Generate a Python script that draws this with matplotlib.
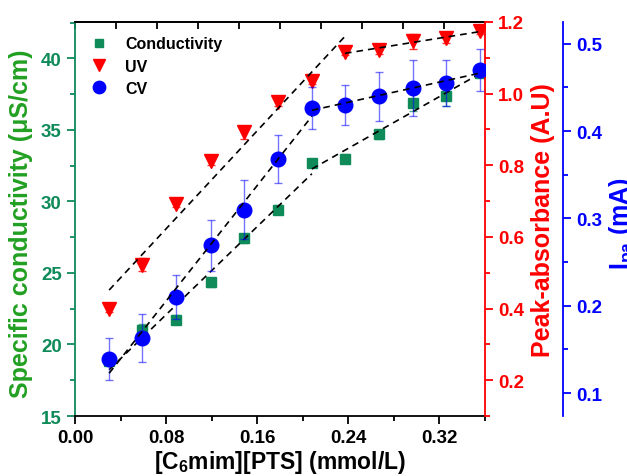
import numpy as np
import matplotlib.pyplot as plt
from matplotlib.ticker import MultipleLocator

plt.rcParams['font.family'] = ['Liberation Sans', 'DejaVu Sans']
plt.rcParams['font.weight'] = 'bold'
plt.rcParams['mathtext.fontset'] = 'custom'
plt.rcParams['mathtext.rm'] = 'Liberation Sans:bold'
plt.rcParams['mathtext.bf'] = 'Liberation Sans:bold'
plt.rcParams['mathtext.default'] = 'bf'

# Dữ liệu
conc = [0.030, 0.059, 0.089, 0.119, 0.148, 0.178, 0.208, 0.237, 0.267, 0.297, 0.326, 0.356]
cond = [18.85, 21.03, 21.73, 24.34, 27.42, 29.42, 32.68, 33.00, 34.70, 36.92, 37.38, 38.97]
cond_err = [0.2, 0.4, 0.3, 0.3, 0.3, 0.3, 0.3, 0.3, 0.3, 0.6, 0.7, 0.3]
uv = [0.399, 0.522, 0.693, 0.812, 0.892, 0.976, 1.036, 1.116, 1.122, 1.146, 1.156, 1.175]
uv_err = [0.010, 0.018, 0.010, 0.012, 0.018, 0.010, 0.010, 0.008, 0.010, 0.020, 0.014, 0.008]
cv = [0.139, 0.163, 0.210, 0.269, 0.310, 0.368, 0.427, 0.430, 0.440, 0.449, 0.455, 0.470]
cv_err = [0.024, 0.027, 0.025, 0.029, 0.034, 0.027, 0.024, 0.023, 0.028, 0.032, 0.026, 0.024]

# Chỉ số chia đoạn cho đường khớp tuyến tính
uv_break = 8
cv_break = 6
cond_break = 6

green = '#0f8b5a'
green_lbl = '#22a022'
red = '#ff0000'
blue = '#0000ff'

fig = plt.figure(figsize=(6.27, 4.77), dpi=100)
ax = fig.add_axes([75/627, 1-417/477, 410/627, 394/477])
ax2 = ax.twinx()
ax3 = ax.twinx()
ax3.spines['right'].set_position(('outward', 56))

x = np.array(conc)


def fit_line(axis, xs, ys, i0, i1):
    p = np.polyfit(xs[i0:i1], ys[i0:i1], 1)
    xx = np.array([xs[i0], xs[i1 - 1]])
    axis.plot(xx, np.polyval(p, xx), ls=(0, (4, 3)), c='k', lw=1.2, zorder=5)


# Độ dẫn điện
ax.errorbar(x, cond, yerr=cond_err, fmt='none', ecolor=green, elinewidth=1, capsize=3, alpha=0.7)
h1, = ax.plot(x, cond, 's', c=green, ms=7, ls='none', label='Conductivity', zorder=3)
fit_line(ax, x, np.array(cond), 0, cond_break + 1)
fit_line(ax, x, np.array(cond), cond_break, len(x))

# UV
ax2.errorbar(x, uv, yerr=uv_err, fmt='none', ecolor=red, elinewidth=1, capsize=3, alpha=0.8)
h2, = ax2.plot(x, uv, 'v', c=red, ms=10.5, ls='none', label='UV', zorder=3)
fit_line(ax2, x, np.array(uv), 0, uv_break)
fit_line(ax2, x, np.array(uv), uv_break - 1, len(x))

# CV
ax3.errorbar(x, cv, yerr=cv_err, fmt='none', ecolor=blue, elinewidth=1, capsize=3, alpha=0.55)
h3, = ax3.plot(x, cv, 'o', c=blue, ms=10.5, ls='none', label='CV', zorder=3)
fit_line(ax3, x, np.array(cv), 0, cv_break + 1)
fit_line(ax3, x, np.array(cv), cv_break, len(x))

ax.set_xlim(0, 0.36)
ax.set_ylim(15, 42.55)
ax2.set_ylim(0.1, 1.2)
ax3.set_ylim(0.0737, 0.525)

ax.xaxis.set_major_locator(MultipleLocator(0.08))
ax.xaxis.set_minor_locator(MultipleLocator(0.04))
ax.set_xticklabels([f'{v:.2f}' for v in ax.get_xticks()])
ax.yaxis.set_major_locator(MultipleLocator(5))
ax.yaxis.set_minor_locator(MultipleLocator(2.5))
ax2.yaxis.set_major_locator(MultipleLocator(0.2))
ax2.yaxis.set_minor_locator(MultipleLocator(0.1))
ax3.yaxis.set_major_locator(MultipleLocator(0.1))
ax3.yaxis.set_minor_locator(MultipleLocator(0.05))

fs = 13.5
ax.tick_params(axis='x', which='major', direction='out', length=6, width=1.3, labelsize=fs, colors='k', top=False)
ax.tick_params(axis='x', which='minor', direction='out', length=3.5, width=1.3, top=False)
ax.tick_params(axis='y', which='major', direction='out', length=6, width=1.3, labelsize=fs, colors=green)
ax.tick_params(axis='y', which='minor', direction='out', length=3.5, width=1.3, colors=green)
ax2.tick_params(axis='y', which='major', direction='out', length=6, width=1.3, labelsize=fs, colors=red)
ax2.tick_params(axis='y', which='minor', direction='out', length=3.5, width=1.3, colors=red)
ax3.tick_params(axis='y', which='major', direction='out', length=6, width=1.3, labelsize=fs, colors=blue)
ax3.tick_params(axis='y', which='minor', direction='out', length=3.5, width=1.3, colors=blue)

# Trục trên: vạch hướng vào trong, không nhãn
top = ax.secondary_xaxis('top')
top.set_xticks(np.linspace(0, 0.36, 11))
top.tick_params(direction='in', length=5, width=1.3, labeltop=False)
top.spines['top'].set_linewidth(1.3)

for s in ['bottom', 'top']:
    ax.spines[s].set_linewidth(1.3)
ax.spines['left'].set_color(green)
ax.spines['left'].set_linewidth(1.3)
for a in (ax2, ax3):
    for s in ['left', 'top', 'bottom']:
        a.spines[s].set_visible(False)
ax2.spines['right'].set_color(red)
ax2.spines['right'].set_linewidth(1.3)
ax3.spines['right'].set_color(blue)
ax3.spines['right'].set_linewidth(1.3)
ax.spines['right'].set_visible(False)

ax.set_xlabel('[C$_6$mim][PTS] (mmol/L)', fontsize=16.5, fontweight='bold', labelpad=1)
ax.set_ylabel('Specific conductivity (\u03bcS/cm)', fontsize=18, fontweight='bold', color=green_lbl)
ax2.set_ylabel('Peak-absorbance (A.U)', fontsize=18, fontweight='bold', color=red)
ax3.set_ylabel('I$_{pa}$ (mA)', fontsize=18, fontweight='bold', color=blue)
ax.yaxis.set_label_coords(-0.103, 0.49)
ax2.yaxis.set_label_coords(1.113, 0.5)
ax3.yaxis.set_label_coords(1.2976, 0.49)

leg = ax3.legend([h1, h2, h3], ['Conductivity', 'UV', 'CV'], loc='upper left',
                 bbox_to_anchor=(0.005, 1.0), frameon=False, fontsize=11.5,
                 handlelength=1.0, handletextpad=1.1, labelspacing=0.45, markerscale=0.85)
for t in leg.get_texts():
    t.set_fontweight('bold')

fig.savefig('out.png', dpi=100)
